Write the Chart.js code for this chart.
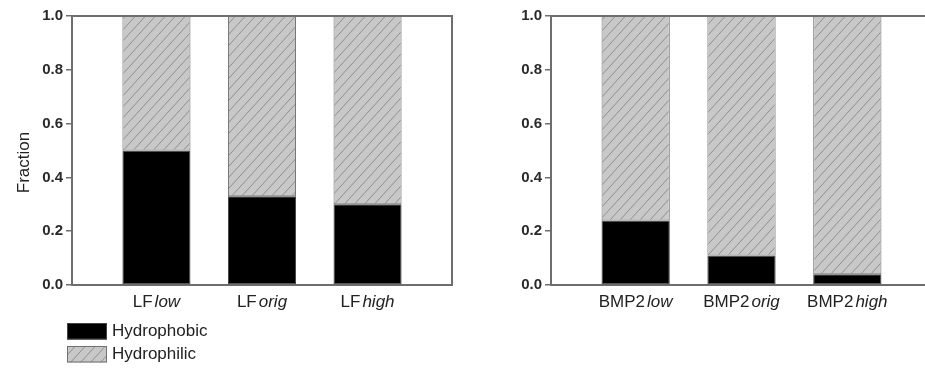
<!DOCTYPE html>
<html><head><meta charset="utf-8">
<script src="https://cdn.jsdelivr.net/npm/chart.js@4.4.1/dist/chart.umd.min.js"></script>
<style>
html,body{margin:0;padding:0;background:#fff;overflow:hidden;width:925px;height:371px;}
#stage{position:absolute;left:0;top:0;width:940px;height:371px;}
#c1{position:absolute;left:0;top:0;}
#c2{position:absolute;left:460px;top:0;}
</style></head><body>
<div id="stage">
<canvas id="c1" width="460" height="371"></canvas>
<canvas id="c2" width="480" height="371"></canvas>
</div>
<script>
// ---- data ----
const leftPrefix = ['LF', 'LF', 'LF'];
const leftSuffix = ['low', 'orig', 'high'];
const rightPrefix = ['BMP2', 'BMP2', 'BMP2'];
const rightSuffix = ['low', 'orig', 'high'];
const categoryPositions = [1, 2, 3];
const leftHydrophobic = [0.50, 0.33, 0.30];
const leftHydrophilic = [0.50, 0.67, 0.70];
const rightHydrophobic = [0.24, 0.11, 0.04];
const rightHydrophilic = [0.76, 0.89, 0.96];
const seriesNames = ['Hydrophobic', 'Hydrophilic'];
const yTicks = [0, 0.2, 0.4, 0.6, 0.8, 1.0];
const yTitle = 'Fraction';

// ---- styling ----
const FONT = 'Arial, "Liberation Sans", Helvetica, sans-serif';
const AXIS = '#6e6e6e';

function hatchPattern() {
  const w = 10, h = 11;
  const c = document.createElement('canvas');
  c.width = w; c.height = h;
  const g = c.getContext('2d');
  g.fillStyle = '#c8c8c8';
  g.fillRect(0, 0, w, h);
  g.strokeStyle = '#8e8e8e';
  g.lineWidth = 1;
  for (let k = -1; k <= 1; k++) {
    g.beginPath(); g.moveTo(k * w, h); g.lineTo(k * w + w, 0); g.stroke();
  }
  return g.createPattern(c, 'repeat');
}
const HATCH = hatchPattern();

const framePlugin = {
  id: 'frame',
  afterDatasetsDraw(chart) {
    const {ctx, chartArea: a} = chart;
    ctx.save();
    ctx.strokeStyle = AXIS;
    ctx.lineWidth = 2;
    ctx.beginPath();
    ctx.moveTo(a.left, a.top);
    ctx.lineTo(a.right, a.top);
    ctx.lineTo(a.right, a.bottom);
    ctx.stroke();
    ctx.restore();
  }
};

const yTitlePlugin = {
  id: 'yTitleText',
  afterDraw(chart, args, opts) {
    if (!opts.text) return;
    const {ctx, chartArea: a} = chart;
    ctx.save();
    ctx.translate(a.left - 48, (a.top + a.bottom) / 2 + 12);
    ctx.rotate(-Math.PI / 2);
    ctx.fillStyle = '#222';
    ctx.font = '17px ' + FONT;
    ctx.textAlign = 'center';
    ctx.textBaseline = 'middle';
    ctx.fillText(opts.text, 0, 0);
    ctx.restore();
  }
};

const richTickPlugin = {
  id: 'richTicks',
  afterDraw(chart, args, opts) {
    const {ctx, chartArea: a} = chart;
    const xs = chart.scales.x;
    ctx.save();
    ctx.fillStyle = '#222';
    ctx.textBaseline = 'middle';
    ctx.textAlign = 'left';
    const y = a.bottom + 17;
    opts.prefix.forEach((p, i) => {
      const s = opts.suffix[i];
      ctx.font = '17px ' + FONT;
      const wp = ctx.measureText(p).width;
      ctx.font = 'italic 17px ' + FONT;
      const ws = ctx.measureText(s).width;
      const gap = 2;
      const cx = xs.getPixelForValue(categoryPositions[i]);
      const x0 = cx - (wp + gap + ws) / 2;
      ctx.font = '17px ' + FONT;
      ctx.fillText(p, x0, y);
      ctx.font = 'italic 17px ' + FONT;
      ctx.fillText(s, x0 + wp + gap, y);
    });
    ctx.restore();
  }
};

const boxLegendPlugin = {
  id: 'boxLegend',
  afterDraw(chart, args, opts) {
    if (!opts.show) return;
    const {ctx, chartArea: a} = chart;
    const x = a.left - 5, bw = 40, bh = 16.5;
    const ys = [a.bottom + 38, a.bottom + 61];
    ctx.save();
    chart.data.datasets.forEach((d, i) => {
      ctx.fillStyle = d.backgroundColor;
      ctx.fillRect(x, ys[i], bw, bh);
      ctx.strokeStyle = d.borderColor;
      ctx.lineWidth = 1;
      ctx.strokeRect(x + 0.5, ys[i] + 0.5, bw - 1, bh - 1);
      ctx.fillStyle = '#222';
      ctx.font = '17px ' + FONT;
      ctx.textBaseline = 'middle';
      ctx.textAlign = 'left';
      ctx.fillText(d.label, x + bw + 5, ys[i] + bh / 2 + 0.5);
    });
    ctx.restore();
  }
};

function makeChart(id, prefix, suffix, phob, phil, yWidth, padRight, showTitle, showLegend) {
  return new Chart(document.getElementById(id), {
    type: 'bar',
    data: {
      datasets: [
        {
          label: seriesNames[0],
          data: categoryPositions.map((x, i) => ({x: x, y: phob[i]})),
          backgroundColor: '#000',
          borderColor: '#444',
          borderWidth: 1,
          borderSkipped: false,
          barPercentage: 0.645,
          categoryPercentage: 1
        },
        {
          label: seriesNames[1],
          data: categoryPositions.map((x, i) => ({x: x, y: phil[i]})),
          backgroundColor: HATCH,
          borderColor: '#707070',
          borderWidth: 1,
          borderSkipped: false,
          barPercentage: 0.645,
          categoryPercentage: 1
        }
      ]
    },
    options: {
      responsive: false,
      animation: false,
      devicePixelRatio: 1,
      layout: {padding: {left: 0, right: padRight, top: 16, bottom: 0}},
      plugins: {
        legend: {display: false},
        tooltip: {enabled: false},
        richTicks: {prefix: prefix, suffix: suffix},
        boxLegend: {show: showLegend},
        yTitleText: {text: showTitle ? yTitle : ''}
      },
      scales: {
        x: {
          type: 'linear', min: 0.2, max: 3.8, stacked: true, offset: false,
          grid: {display: false},
          border: {display: true, color: AXIS, width: 2},
          ticks: {display: false},
          afterBuildTicks: s => { s.ticks = categoryPositions.map(v => ({value: v})); },
          afterFit: s => { s.height = 86; }
        },
        y: {
          min: 0, max: 1, stacked: true,
          afterBuildTicks: s => { s.ticks = yTicks.map(v => ({value: v})); },
          ticks: {
            font: {family: FONT, size: 15, weight: 'bold'},
            color: '#2a2a2a', padding: 3,
            callback: v => Number(v).toFixed(1)
          },
          grid: {drawOnChartArea: false, tickLength: 6, color: AXIS, lineWidth: 1.5},
          border: {display: true, color: AXIS, width: 2},
          title: {display: false},
          afterFit: s => { s.width = yWidth; }
        }
      }
    },
    plugins: [framePlugin, richTickPlugin, boxLegendPlugin, yTitlePlugin]
  });
}

makeChart('c1', leftPrefix, leftSuffix, leftHydrophobic, leftHydrophilic, 72, 8, true, true);
makeChart('c2', rightPrefix, rightSuffix, rightHydrophobic, rightHydrophilic, 91, 8, false, false);
</script>
</body></html>
